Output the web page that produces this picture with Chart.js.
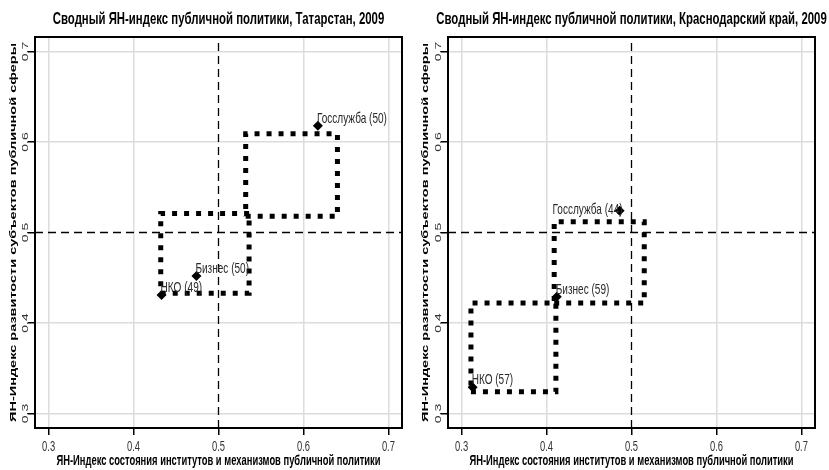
<!DOCTYPE html>
<html><head><meta charset="utf-8">
<script src="https://cdn.jsdelivr.net/npm/chart.js@4"></script>
<style>
html,body{margin:0;padding:0;background:#fff;}
#wrap{position:relative;width:829px;height:470px;overflow:hidden;background:#fff;}
canvas{position:absolute;top:0;}
#c1{left:0;} #c2{left:414px;}
</style></head><body>
<div id="wrap"><canvas id="c1" width="414" height="470"></canvas><canvas id="c2" width="415" height="470"></canvas></div>
<script>
// ---- data ----
const panelTitles = ['Сводный ЯН-индекс публичной политики, Татарстан, 2009',
                     'Сводный ЯН-индекс публичной политики, Краснодарский край, 2009'];
const xAxisTitle = 'ЯН-Индекс состояния институтов и механизмов публичной политики';
const yAxisTitle = 'ЯН-Индекс развитости субъектов публичной сферы';
const tickValues = [0.3, 0.4, 0.5, 0.6, 0.7];
const axisRange = [0.284, 0.716];
const refValue = 0.5;

const tatLabels = ['Госслужба (50)', 'Бизнес (50)', 'НКО (49)'];
const tatX = [0.617, 0.474, 0.433];
const tatY = [0.618, 0.452, 0.431];
const tatBoxX = [[0.532, 0.640], [0.432, 0.536]];
const tatBoxY = [[0.518, 0.609], [0.433, 0.521]];

const krLabels = ['Госслужба (44)', 'Бизнес (59)', 'НКО (57)'];
const krX = [0.486, 0.412, 0.313];
const krY = [0.524, 0.429, 0.329];
const krBoxX = [[0.409, 0.515], [0.311, 0.411]];
const krBoxY = [[0.422, 0.512], [0.324, 0.422]];

// label placement (style, not data)
const tatLabelSide = ['right', 'right', 'right'];
const krLabelSide = ['left', 'right', 'right'];

// ---- rendering ----
const K = 0.67; // horizontal text condensation
Chart.defaults.font.family = "'Liberation Sans', Arial, sans-serif";

function condense(ctx, k) {
  const orig = ctx.fillText.bind(ctx);
  ctx.fillText = function (t, x, y) {
    const m = this.getTransform();
    const p = m.transformPoint(new DOMPoint(x, y));
    this.save();
    this.setTransform(new DOMMatrix([k, 0, 0, 1, p.x * (1 - k), 0]).multiply(m));
    orig(t, x, y);
    this.restore();
  };
}

const framePlugin = {
  id: 'frame',
  afterDraw(chart) {
    const {ctx, chartArea: a} = chart;
    ctx.save();
    ctx.strokeStyle = '#000';
    ctx.lineWidth = 2;
    ctx.strokeRect(a.left, a.top, a.right - a.left, a.bottom - a.top);
    ctx.restore();
  }
};

const labelPlugin = {
  id: 'pointLabels',
  afterDatasetsDraw(chart) {
    const ctx = chart.ctx;
    chart.data.datasets.forEach((ds, di) => {
      if (!ds.pointTexts) return;
      const meta = chart.getDatasetMeta(di);
      meta.data.forEach((el, i) => {
        ctx.save();
        ctx.font = "15px 'Liberation Sans', Arial, sans-serif";
        ctx.fillStyle = '#2a2a2a';
        ctx.textBaseline = 'middle';
        if (ds.pointSides[i] === 'left') {
          ctx.textAlign = 'right';
          ctx.fillText(ds.pointTexts[i], el.x + 3, el.y - 1);
        } else {
          ctx.textAlign = 'left';
          ctx.fillText(ds.pointTexts[i], el.x - 1, el.y - 7);
        }
        ctx.restore();
      });
    });
  }
};

function boxData(bx, by) {
  return [{x: bx[0], y: by[0]}, {x: bx[1], y: by[0]}, {x: bx[1], y: by[1]},
          {x: bx[0], y: by[1]}, {x: bx[0], y: by[0]}];
}

function makeChart(id, title, xs, ys, labels, sides, boxX, boxY, padRight, yWidth, yTitlePad) {
  const canvas = document.getElementById(id);
  const ctx = canvas.getContext('2d');
  condense(ctx, K);
  const datasets = [];
  datasets.push({
    data: xs.map((x, i) => ({x, y: ys[i]})),
    pointStyle: 'rectRot', pointRadius: 5, pointHoverRadius: 5,
    backgroundColor: '#000', borderColor: '#000', borderWidth: 0,
    showLine: false, order: 0,
    pointTexts: labels, pointSides: sides
  });
  boxX.forEach((bx, j) => {
    datasets.push({
      data: boxData(bx, boxY[j]), showLine: true, pointRadius: 0,
      borderColor: '#000', borderWidth: 5, borderDash: [5, 7], borderCapStyle: 'butt',
      borderJoinStyle: 'miter', fill: false, tension: 0, order: 1
    });
  });
  datasets.push({
    data: [{x: refValue, y: axisRange[0]}, {x: refValue, y: axisRange[1]}],
    showLine: true, pointRadius: 0, borderColor: '#000', borderWidth: 1.3,
    borderDash: [8, 5], order: 2
  });
  datasets.push({
    data: [{x: axisRange[0], y: refValue}, {x: axisRange[1], y: refValue}],
    showLine: true, pointRadius: 0, borderColor: '#000', borderWidth: 1.3,
    borderDash: [8, 5], order: 2
  });
  const gridColor = c => (c.tick && Math.abs(c.tick.value - refValue) < 1e-9 ? 'rgba(0,0,0,0)' : '#dcdcdc');
  return new Chart(ctx, {
    type: 'scatter',
    data: {datasets},
    options: {
      responsive: false, animation: false, events: [],
      layout: {padding: {left: 0, right: padRight, top: 0, bottom: 0}},
      plugins: {
        legend: {display: false}, tooltip: {enabled: false},
        title: {display: true, text: title, color: '#000', fullSize: false,
                font: {size: 17, weight: 'bold'}, padding: {top: 9.5, bottom: 7.1}}
      },
      scales: {
        x: {
          type: 'linear', min: axisRange[0], max: axisRange[1],
          afterBuildTicks: s => { s.ticks = tickValues.map(v => ({value: v})); },
          afterFit: s => { s.height = 42; },
          ticks: {autoSkip: false, maxRotation: 0, minRotation: 0, color: '#333',
                  font: {size: 14}, padding: 3.6, callback: v => String(v)},
          grid: {color: gridColor, lineWidth: 1.5, tickColor: '#000', tickLength: 7, tickWidth: 1.5},
          border: {display: true, color: '#000', width: 2},
          title: {display: true, text: xAxisTitle, color: '#000',
                  font: {size: 14, weight: 'bold'}, padding: {top: 0, bottom: 0.6}}
        },
        y: {
          type: 'linear', min: axisRange[0], max: axisRange[1],
          afterBuildTicks: s => { s.ticks = tickValues.map(v => ({value: v})); },
          afterFit: s => { s.width = yWidth; },
          ticks: {autoSkip: false, minRotation: 90, maxRotation: 90, crossAlign: 'center',
                  color: '#333', font: {size: 14}, padding: -6.7, callback: v => String(v)},
          grid: {color: gridColor, lineWidth: 1.5, tickColor: '#000', tickLength: 7, tickWidth: 1.5},
          border: {display: true, color: '#000', width: 2},
          title: {display: true, text: yAxisTitle, color: '#000',
                  font: {size: 14.5, weight: 'bold'}, padding: {top: yTitlePad, bottom: 0}}
        }
      }
    },
    plugins: [framePlugin, labelPlugin]
  });
}

makeChart('c1', panelTitles[0], tatX, tatY, tatLabels, tatLabelSide, tatBoxX, tatBoxY, 12, 35, 4.3);
makeChart('c2', panelTitles[1], krX, krY, krLabels, krLabelSide, krBoxX, krBoxY, 14, 34, 2.3);
</script>
</body></html>
